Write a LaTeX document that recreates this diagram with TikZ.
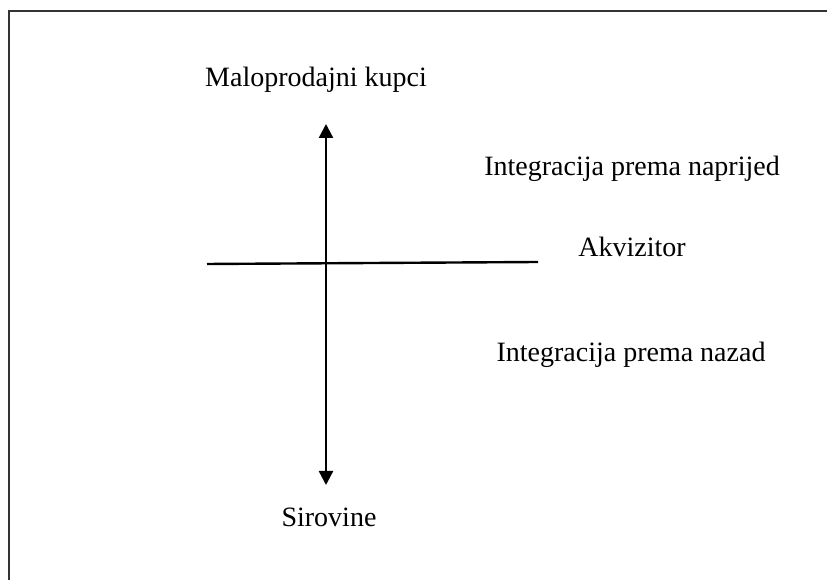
\documentclass[tikz,border=0pt]{standalone}
\usepackage{fontspec}
\setmainfont{Liberation Serif}
\usetikzlibrary{arrows.meta}
\begin{document}
\begin{tikzpicture}[x=1pt,y=1pt,
  lbl/.style={anchor=base,inner sep=0pt,font=\fontsize{28}{30}\selectfont},
  axis/.style={line width=2.4pt,black},
  tip/.style={Triangle[width=14pt,length=14pt]}]
\useasboundingbox (0,0) rectangle (827,580);
\draw[line width=2pt,black!80] (9,0) -- (9,569) -- (827,569);
\node[lbl] (top) at (316,493) {Maloprodajni kupci};
\node[lbl] (fwd) at (632,404) {Integracija prema naprijed};
\node[lbl] (akv) at (632,323.5) {Akvizitor};
\node[lbl] (bwd) at (631,218.5) {Integracija prema nazad};
\node[lbl] (bot) at (329,53) {Sirovine};
\coordinate (up) at (326,456);
\coordinate (dn) at (326,95);
\coordinate (hl) at (207,316);
\coordinate (hr) at (538,318);
\draw[axis,{Triangle[width=14pt,length=14pt]}-{Triangle[width=14pt,length=14pt]}] (up) -- (dn);
\draw[axis] (hl) -- (hr);
\end{tikzpicture}
\end{document}
